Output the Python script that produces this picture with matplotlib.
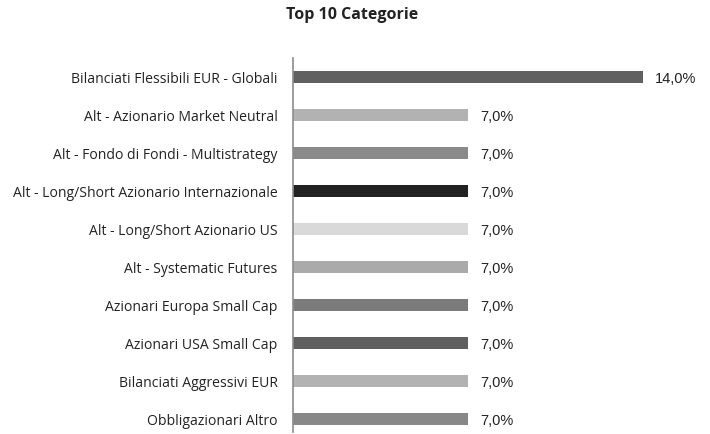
import matplotlib
matplotlib.use("Agg")
import matplotlib.pyplot as plt

# Data
categories = [
    "Bilanciati Flessibili EUR - Globali",
    "Alt - Azionario Market Neutral",
    "Alt - Fondo di Fondi - Multistrategy",
    "Alt - Long/Short Azionario Internazionale",
    "Alt - Long/Short Azionario US",
    "Alt - Systematic Futures",
    "Azionari Europa Small Cap",
    "Azionari USA Small Cap",
    "Bilanciati Aggressivi EUR",
    "Obbligazionari Altro",
]
values = [14.0, 7.0, 7.0, 7.0, 7.0, 7.0, 7.0, 7.0, 7.0, 7.0]
colors = ["#606060", "#b2b2b2", "#8a8a8a", "#222222", "#d9d9d9",
          "#aaaaaa", "#7b7b7b", "#5f5f5f", "#b2b2b2", "#888888"]

W, H = 710, 434
fig = plt.figure(figsize=(W / 100, H / 100), dpi=100)
ax = fig.add_axes([293 / W, 1 - 432 / H, 400 / W, 374 / H])

y = list(range(len(categories)))
ax.barh(y, values, height=0.32, color=colors)
ax.set_xlim(0, 16)
ax.set_ylim(9.34, -0.5)

for yi, v in zip(y, values):
    ax.annotate(f"{v:.1f}%".replace(".", ","), (v, yi), xytext=(12, -2),
                textcoords="offset pixels", va="center", ha="left",
                fontsize=10.5, family="Liberation Sans", color="#222222")

ax.set_yticks(y)
ax.set_yticklabels(categories, fontsize=10.1, family="Open Sans", color="#222222")
ax.tick_params(axis="y", length=0, pad=11)
ax.set_xticks([])
for s in ["top", "right", "bottom"]:
    ax.spines[s].set_visible(False)
ax.spines["left"].set_color("#8c8c8c")
ax.spines["left"].set_linewidth(1.2)

fig.text(352 / W, 1 - 15 / H, "Top 10 Categorie", ha="center", va="center",
         fontsize=11.5, fontweight="bold", family="Open Sans", color="#222222")

fig.savefig("out.png", dpi=100)
